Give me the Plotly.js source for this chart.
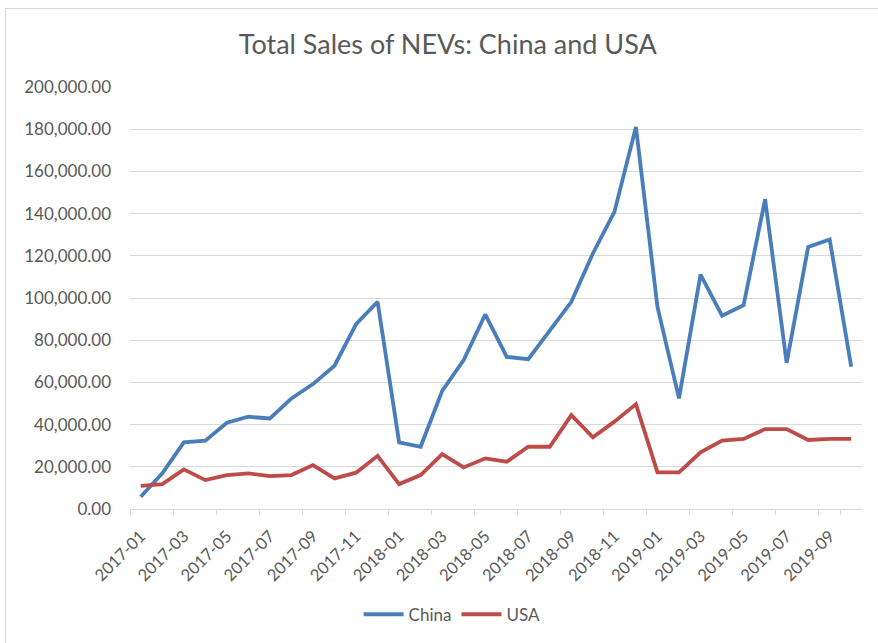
<!DOCTYPE html>
<html>
<head>
<meta charset="utf-8">
<script src="https://cdn.plot.ly/plotly-3.0.1.min.js"></script>
<style>
html,body{margin:0;padding:0;background:#fff;overflow:hidden;}
#frame{position:absolute;left:5px;top:8px;width:900px;height:700px;border:1px solid #d9d9d9;box-sizing:border-box;}
#plot{position:absolute;left:0;top:0;width:878px;height:643px;}
</style>
</head>
<body>
<div id="frame"></div>
<div id="plot"></div>
<script>
const months = ["2017-01","2017-02","2017-03","2017-04","2017-05","2017-06","2017-07","2017-08","2017-09","2017-10","2017-11","2017-12",
"2018-01","2018-02","2018-03","2018-04","2018-05","2018-06","2018-07","2018-08","2018-09","2018-10","2018-11","2018-12",
"2019-01","2019-02","2019-03","2019-04","2019-05","2019-06","2019-07","2019-08","2019-09","2019-10"];
const china = [5800,16900,31600,32400,40900,43700,42900,52400,59200,67900,87600,98200,
31600,29500,56000,70600,92200,72100,71000,84800,98200,121100,140800,181000,
95800,52400,111100,91600,96600,146800,69300,124200,127700,67400];
const usa = [11000,11800,18800,13700,16100,16900,15600,16100,20800,14500,17200,25200,
11800,16100,26000,19700,24000,22400,29500,29500,44500,34000,41400,49700,
17400,17400,26900,32400,33200,37900,37900,32700,33200,33200];
const tickLabels = months.filter((m,i)=>i%2===0);

const font = "Lato, 'Open Sans', sans-serif";
const traces = [
  {x: months, y: china, name: "China", type: "scatter", mode: "lines",
   line: {color: "#4a7ebb", width: 3.8}},
  {x: months, y: usa, name: "USA", type: "scatter", mode: "lines",
   line: {color: "#be4b48", width: 3.8}}
];
const layout = {
  width: 878, height: 643,
  paper_bgcolor: "rgba(0,0,0,0)", plot_bgcolor: "rgba(0,0,0,0)",
  margin: {l: 130, r: 16, t: 87, b: 134},
  font: {family: font, color: "#595959", size: 17},
  title: {text: "Total Sales of NEVs: China and USA", x: 0.51, xanchor: "center", y: 0.93, yanchor: "middle",
          automargin: false, font: {family: font, size: 27, color: "#595959"}},
  xaxis: {type: "category", tickmode: "array", tickvals: tickLabels, ticktext: tickLabels,
          tickangle: -45, tickson: "boundaries", ticks: "outside", ticklen: 5, tickcolor: "#d9d9d9",
          showline: true, linecolor: "#d9d9d9", linewidth: 1, showgrid: false, zeroline: false,
          ticklabelstandoff: 10, automargin: false,
          range: [-0.5, 33.5], tickfont: {size: 16.5, color: "#595959"}},
  yaxis: {range: [0, 200000], tickmode: "linear", tick0: 0, dtick: 20000, tickformat: ",.2f",
          showgrid: true, gridcolor: "#d9d9d9", gridwidth: 1, zeroline: false, showline: false,
          automargin: false,
          ticks: "", ticklabelstandoff: 18, tickfont: {size: 17, color: "#595959"}},
  showlegend: true,
  legend: {orientation: "h", x: 0.44, xanchor: "center", yref: "container", y: 0.044, yanchor: "middle",
           font: {size: 17, color: "#595959"}, itemwidth: 40}
};
Plotly.newPlot("plot", traces, layout, {displayModeBar: false, staticPlot: true});
</script>
</body>
</html>
